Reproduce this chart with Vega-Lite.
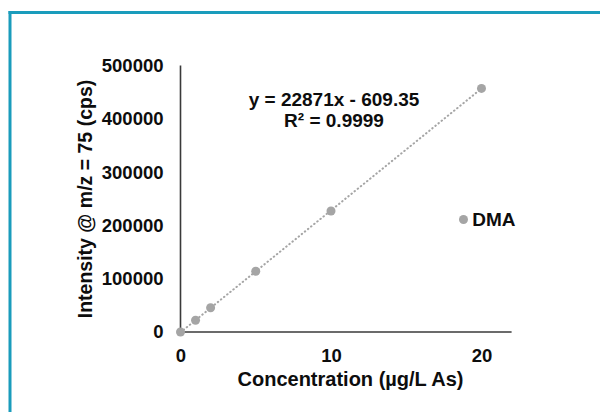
{
  "$schema": "https://vega.github.io/schema/vega-lite/v6.json",
  "width": 590.5,
  "height": 400,
  "autosize": {"type": "none"},
  "padding": {"left": 9.5, "top": 12, "right": 0, "bottom": 0},
  "background": "white",
  "config": {
    "view": {"stroke": null},
    "font": "Liberation Sans",
    "axis": {"grid": false, "ticks": false, "labelFlush": false, "labelOverlap": false, "labelFont": "Liberation Sans", "titleFont": "Liberation Sans", "labelFontWeight": "bold", "titleFontWeight": "bold", "labelColor": "#0d0d0d", "titleColor": "#0d0d0d"},
    "legend": {"padding": 0}
  },
  "resolve": {"axis": {"x": "independent", "y": "independent"}},
  "layer": [
    {
      "data": {"values": [
        {"x1": 0, "x2": 22, "y1": 0, "y2": 0},
        {"x1": 0, "x2": 0, "y1": 0, "y2": 500000}
      ]},
      "mark": {"type": "rule", "color": "#3a3a3a", "strokeWidth": 1.6},
      "encoding": {
        "x": {"field": "x1", "type": "quantitative",
              "scale": {"domain": [-11.362, 27.874], "nice": false, "zero": false},
              "axis": {"orient": "top", "domain": true, "domainColor": "#1a9cbc", "domainWidth": 3, "domainCap": "square", "labels": false, "ticks": false, "grid": false, "title": null}},
        "x2": {"field": "x2"},
        "y": {"field": "y1", "type": "quantitative",
              "scale": {"domain": [-150094, 600375], "nice": false, "zero": false},
              "axis": {"orient": "left", "domain": true, "domainColor": "#1a9cbc", "domainWidth": 3, "domainCap": "square", "labels": false, "ticks": false, "grid": false, "title": null}},
        "y2": {"field": "y2"}
      }
    },
    {
      "data": {"values": [
        {"conc": 0, "fit": -609.35},
        {"conc": 20, "fit": 456810.65}
      ]},
      "mark": {"type": "line", "color": "#a5a5a5", "strokeWidth": 2, "strokeDash": [0.5, 3.5], "strokeCap": "round"},
      "encoding": {
        "x": {"field": "conc", "type": "quantitative", "axis": null},
        "y": {"field": "fit", "type": "quantitative", "axis": null}
      }
    },
    {
      "data": {"values": [
        {"conc": 0, "intensity": 0, "series": "DMA"},
        {"conc": 1, "intensity": 22000, "series": "DMA"},
        {"conc": 2, "intensity": 45500, "series": "DMA"},
        {"conc": 5, "intensity": 114000, "series": "DMA"},
        {"conc": 10, "intensity": 227000, "series": "DMA"},
        {"conc": 20, "intensity": 457000, "series": "DMA"}
      ]},
      "mark": {"type": "point", "filled": true, "opacity": 1, "size": 81},
      "encoding": {
        "x": {"field": "conc", "type": "quantitative",
              "axis": {"orient": "bottom", "offset": -80, "domain": false, "values": [0, 10, 20], "labelFontSize": 18.5, "labelPadding": 14.3, "labelBaseline": "top",
                       "title": "Concentration (µg/L As)", "titleFontSize": 20, "titleX": 340.5, "titleY": 37.2, "titleAlign": "center", "titleBaseline": "top", "titleAnchor": null}},
        "y": {"field": "intensity", "type": "quantitative",
              "axis": {"orient": "left", "offset": -171, "domain": false, "values": [0, 100000, 200000, 300000, 400000, 500000], "format": "d", "labelFontSize": 18.5, "labelPadding": 17.5,
                       "title": "Intensity @ m/z = 75 (cps)", "titleFontSize": 19.5, "titleAngle": 270, "titleX": -85.5, "titleY": 186.5, "titleAlign": "center", "titleBaseline": "bottom"}},
        "color": {"field": "series", "type": "nominal",
                  "scale": {"domain": ["DMA"], "range": ["#a5a5a5"]},
                  "legend": {"orient": "none", "legendX": 444.5, "legendY": 198, "title": null, "symbolType": "circle", "symbolSize": 81, "symbolOpacity": 1, "symbolStrokeWidth": 0, "labelFont": "Liberation Sans", "labelFontWeight": "bold", "labelFontSize": 19, "labelColor": "#0d0d0d", "labelOffset": -0.8}}
      }
    },
    {
      "data": {"values": [
        {"conc": 10.2, "intensity": 451500, "label": "y = 22871x - 609.35\nR² = 0.9999"}
      ]},
      "mark": {"type": "text", "lineBreak": "\n", "align": "center", "baseline": "top", "font": "Liberation Sans", "fontWeight": "bold", "fontSize": 19, "lineHeight": 20.5, "color": "#0d0d0d"},
      "encoding": {
        "x": {"field": "conc", "type": "quantitative", "axis": null},
        "y": {"field": "intensity", "type": "quantitative", "axis": null},
        "text": {"field": "label"}
      }
    }
  ]
}
